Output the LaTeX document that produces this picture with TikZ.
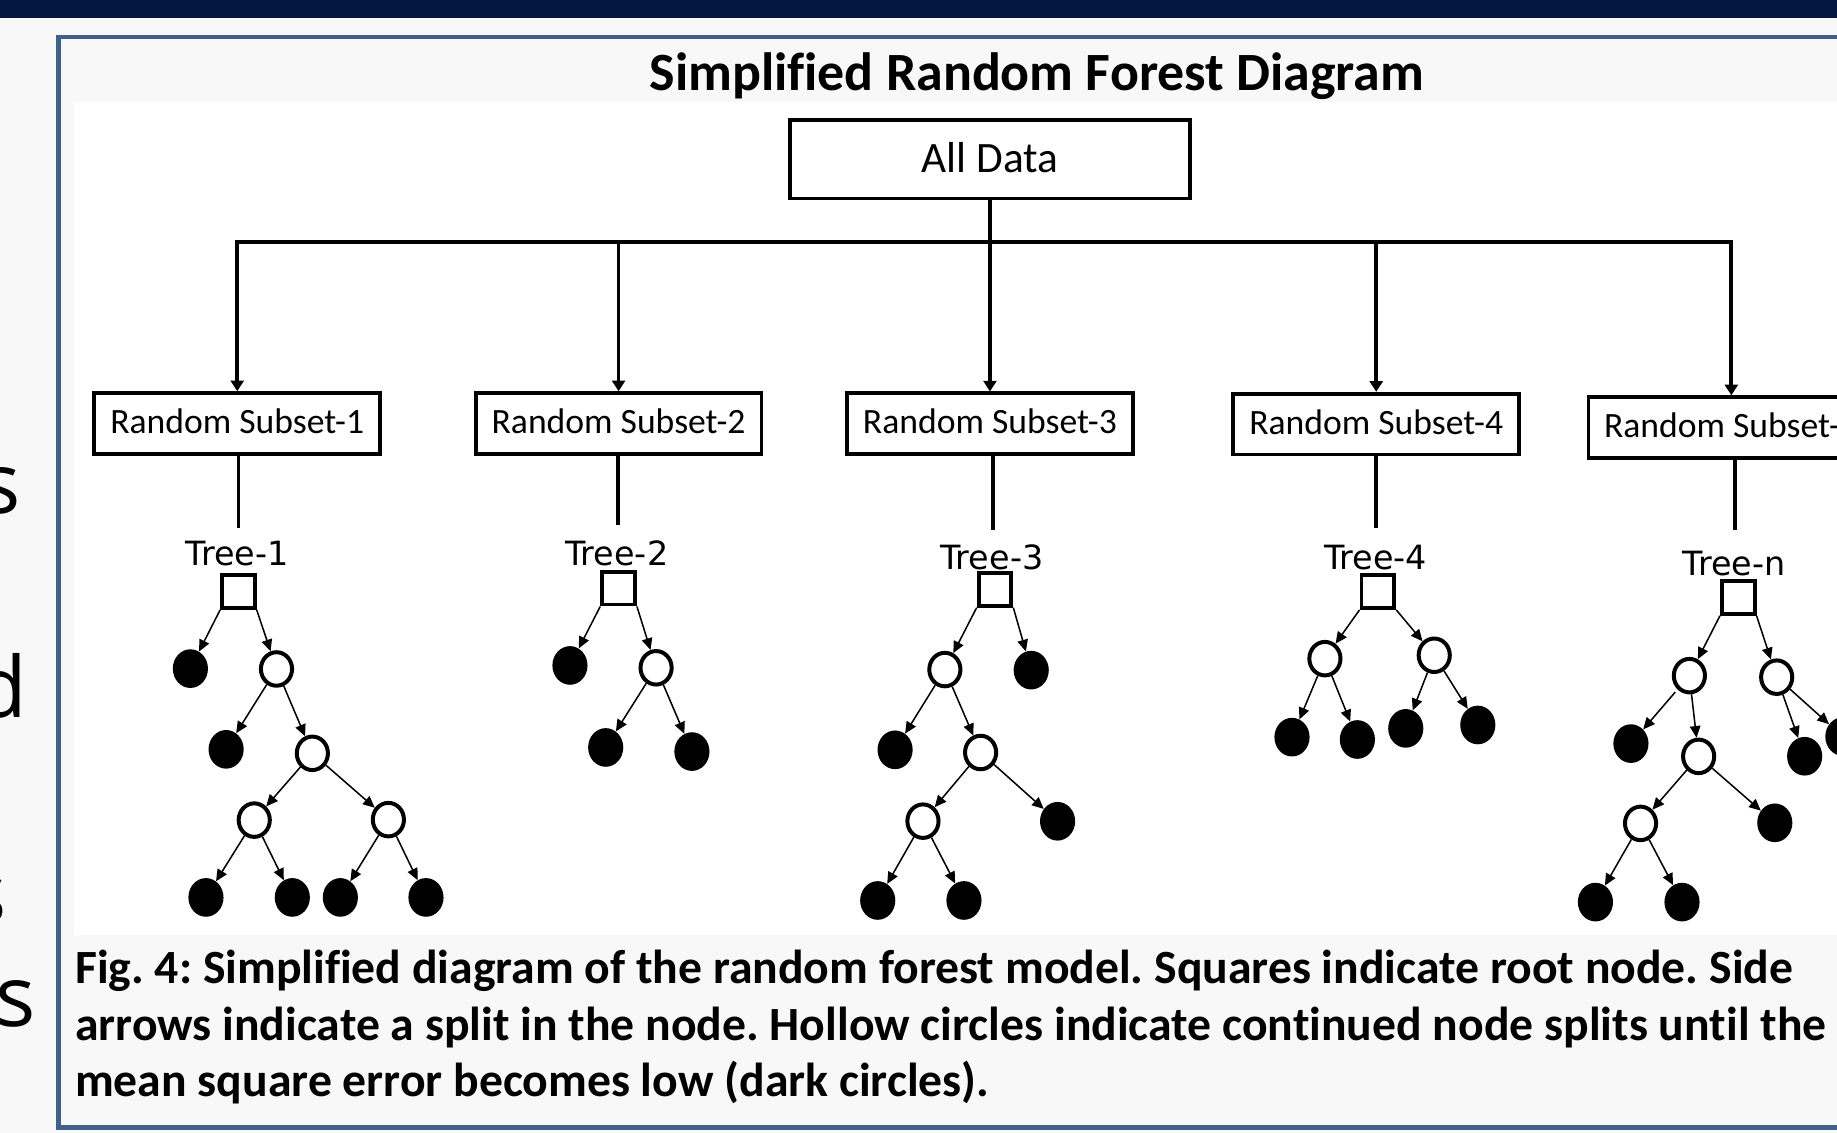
\documentclass[tikz,border=0pt]{standalone}
\usepackage{fontspec}
\setmainfont{Carlito}[Ligatures=NoCommon]
\newfontfamily\dejavu{DejaVu Sans}
\newfontfamily\opensans{Open Sans}
\usetikzlibrary{arrows.meta,shapes.geometric}
\definecolor{navybar}{RGB}{2,22,65}
\definecolor{frameblue}{RGB}{64,96,140}
\definecolor{slidebg}{RGB}{248,248,248}
\frenchspacing
\begin{document}
\begin{tikzpicture}[x=1pt,y=-1pt,
  subsetbox/.style={draw=black,line width=3.2pt,fill=white,minimum width=244pt,minimum height=52pt,inner sep=0pt,text height=17pt,text depth=0pt,font=\fontsize{30.4}{36}\selectfont},
  topbox/.style={draw=black,line width=3.2pt,fill=white,minimum width=341pt,minimum height=67pt,inner sep=0pt,text height=23pt,text depth=0pt,font=\fontsize{37}{44}\selectfont},
  busline/.style={line width=3.2pt},
  busarrow/.style={line width=3.2pt,-{Triangle[length=9pt,width=11pt]}},
  treelabel/.style={font=\dejavu\fontsize{28.5}{33}\selectfont,inner sep=0pt,anchor=base},
  rootsq/.style={draw=black,line width=3.3pt,minimum size=28pt,inner sep=0pt,fill=white},
  leaf/.style={ellipse,fill=black,minimum width=30pt,minimum height=33pt,inner sep=0pt},
  splitnode/.style={ellipse,draw=black,line width=3.4pt,fill=white,minimum width=26.6pt,minimum height=28.6pt,inner sep=0pt},
  edgearrow/.style={line width=1.3pt,-{Triangle[length=10pt,width=9pt]}},
  captionline/.style={font=\bfseries\fontsize{40.7}{48.3}\selectfont,inner sep=0pt,anchor=base west},
  sideletter/.style={font=\opensans\fontsize{72}{80}\selectfont,inner sep=0pt,anchor=base east},
]
\useasboundingbox (0,0) rectangle (1568,967);
\clip (0,0) rectangle (1568,967);
% background
\fill[slidebg] (0,0) rectangle (1568,967);
\fill[navybar] (0,0) rectangle (1568,15.5);
% left cut-off letters
\node[sideletter] (la) at (18,438) {s};
\node[sideletter] (lb) at (23.5,612) {d};
\node[sideletter] (lc) at (6,788) {s};
\node[sideletter] (ld) at (31,876) {s};
% frame
\draw[frameblue,line width=4pt,fill=slidebg] (50,31.5) rectangle (1620,962.5);
\fill[white] (63,87) rectangle (1620,798);
% title
\node[font=\bfseries\fontsize{46}{55}\selectfont,inner sep=0pt,anchor=base] (title) at (885,77.5) {Simplified Random Forest Diagram};
% top level
\node[topbox] (all) at (845,136) {All Data};
\node[subsetbox] (s1) at (202.5,361.5) {Random Subset-1};
\node[subsetbox] (s2) at (528,361.5) {Random Subset-2};
\node[subsetbox] (s3) at (845,361.7) {Random Subset-3};
\node[subsetbox] (s4) at (1174.7,362) {Random Subset-4};
\node[subsetbox] (s5) at (1477.8,365) {Random Subset-n};
\coordinate (busy) at (0,206.3);
\draw[busline,{Triangle[length=9pt,width=11pt]}-{Triangle[length=9pt,width=11pt]}] (s1.north) -- (s1.north |- busy) -- (s5.north |- busy) -- (s5.north);
\draw[busarrow] (s2.north |- busy) -- (s2.north);
\draw[busarrow] (s4.north |- busy) -- (s4.north);
\draw[busarrow] (all.south) -- (s3.north);
% stems to trees
\coordinate (e1) at (203.5,450.5);
\coordinate (e2) at (527.6,448);
\coordinate (e3) at (847.5,452);
\coordinate (e4) at (1174.6,451);
\coordinate (e5) at (1481,452.4);
\draw[busline] (e1 |- s1.south) -- (e1);
\draw[busline] (e2 |- s2.south) -- (e2);
\draw[busline] (e3 |- s3.south) -- (e3);
\draw[busline] (e4 |- s4.south) -- (e4);
\draw[busline] (e5 |- s5.south) -- (e5);
% ---------- Tree 1
\node[rootsq] (r1) at (203.5,505) {};
\node[leaf] (l1a) at (162.5,570.7) {};
\node[splitnode] (h1a) at (236,571) {};
\node[leaf] (l1b) at (193,639.6) {};
\node[splitnode] (h1b) at (266.6,643) {};
\node[splitnode] (h1c) at (217,700) {};
\node[splitnode] (h1d) at (331.5,699.6) {};
\node[leaf] (l1c) at (175.8,766) {};
\node[leaf] (l1d) at (249.5,766) {};
\node[leaf] (l1e) at (290.5,766) {};
\node[leaf] (l1f) at (363.6,766) {};
\draw[edgearrow] (r1.south west) -- (l1a);
\draw[edgearrow] (r1.south east) -- (h1a);
\draw[edgearrow] (h1a) -- (l1b);
\draw[edgearrow] (h1a) -- (h1b);
\draw[edgearrow] (h1b) -- (h1c);
\draw[edgearrow] (h1b) -- (h1d);
\draw[edgearrow] (h1c) -- (l1c);
\draw[edgearrow] (h1c) -- (l1d);
\draw[edgearrow] (h1d) -- (l1e);
\draw[edgearrow] (h1d) -- (l1f);
% ---------- Tree 2
\node[rootsq] (r2) at (528,502) {};
\node[leaf] (l2a) at (486.5,568) {};
\node[splitnode] (h2a) at (560,570) {};
\node[leaf] (l2b) at (517,638) {};
\node[leaf] (l2c) at (590.6,641.5) {};
\draw[edgearrow] (r2.south west) -- (l2a);
\draw[edgearrow] (r2.south east) -- (h2a);
\draw[edgearrow] (h2a) -- (l2b);
\draw[edgearrow] (h2a) -- (l2c);
% ---------- Tree 3
\node[rootsq] (r3) at (849.3,503) {};
\node[splitnode] (h3a) at (806.5,571.5) {};
\node[leaf] (l3a) at (880.2,572) {};
\node[leaf] (l3b) at (764,640) {};
\node[splitnode] (h3b) at (837,642.3) {};
\node[splitnode] (h3c) at (787.8,700.9) {};
\node[leaf] (l3c) at (902.7,701) {};
\node[leaf] (l3d) at (749.2,768.6) {};
\node[leaf] (l3e) at (822.8,768.6) {};
\draw[edgearrow] (r3.south west) -- (h3a);
\draw[edgearrow] (r3.south east) -- (l3a);
\draw[edgearrow] (h3a) -- (l3b);
\draw[edgearrow] (h3a) -- (h3b);
\draw[edgearrow] (h3b) -- (h3c);
\draw[edgearrow] (h3b) -- (l3c);
\draw[edgearrow] (h3c) -- (l3d);
\draw[edgearrow] (h3c) -- (l3e);
% ---------- Tree 4
\node[rootsq] (r4) at (1176.1,504.9) {};
\node[splitnode] (h4a) at (1130.9,562.2) {};
\node[splitnode] (h4b) at (1224.2,559.3) {};
\node[leaf] (l4a) at (1102.8,629.2) {};
\node[leaf] (l4b) at (1158.6,631.2) {};
\node[leaf] (l4c) at (1199.9,621.7) {};
\node[leaf] (l4d) at (1261.4,618.8) {};
\draw[edgearrow] (r4.south west) -- (h4a);
\draw[edgearrow] (r4.south east) -- (h4b);
\draw[edgearrow] (h4a) -- (l4a);
\draw[edgearrow] (h4a) -- (l4b);
\draw[edgearrow] (h4b) -- (l4c);
\draw[edgearrow] (h4b) -- (l4d);
% ---------- Tree n
\node[rootsq] (r5) at (1483.7,510) {};
\node[splitnode] (h5a) at (1442,576.7) {};
\node[splitnode] (h5b) at (1516.5,578) {};
\node[leaf] (l5a) at (1392.1,634.7) {};
\node[splitnode] (h5c) at (1449.9,645.6) {};
\node[leaf] (l5b) at (1540.4,645.5) {};
\node[leaf] (l5c) at (1573,628.7) {};
\node[splitnode] (h5d) at (1400.3,702.8) {};
\node[leaf] (l5d) at (1514.9,702.3) {};
\node[leaf] (l5e) at (1361.8,770) {};
\node[leaf] (l5f) at (1435.7,770) {};
\draw[edgearrow] (r5.south west) -- (h5a);
\draw[edgearrow] (r5.south east) -- (h5b);
\draw[edgearrow,shorten <=3pt] (h5a) -- (l5a);
\draw[edgearrow] (h5a) -- (h5c);
\draw[edgearrow] (h5b) -- (l5b);
\draw[edgearrow] (h5b) -- (l5c);
\draw[edgearrow] (h5c) -- (h5d);
\draw[edgearrow] (h5c) -- (l5d);
\draw[edgearrow] (h5d) -- (l5e);
\draw[edgearrow] (h5d) -- (l5f);
% tree labels
\node[treelabel] (t1) at (202.5,483) {Tree-1};
\node[treelabel] (t2) at (526.5,482.3) {Tree-2};
\node[treelabel] (t3) at (846.6,486) {Tree-3};
\node[treelabel] (t4) at (1174.3,486) {Tree-4};
\node[treelabel] (t5) at (1480.3,491.6) {Tree-n};
% caption
\node[captionline] (c1) at (64,839.3) {Fig. 4: Simplified diagram of the random forest model. Squares indicate root node. Side};
\node[captionline] (c2) at (64,887.7) {arrows indicate a split in the node. Hollow circles indicate continued node splits until the};
\node[captionline] (c3) at (64,936) {mean square error becomes low (dark circles).};
\end{tikzpicture}
\end{document}
